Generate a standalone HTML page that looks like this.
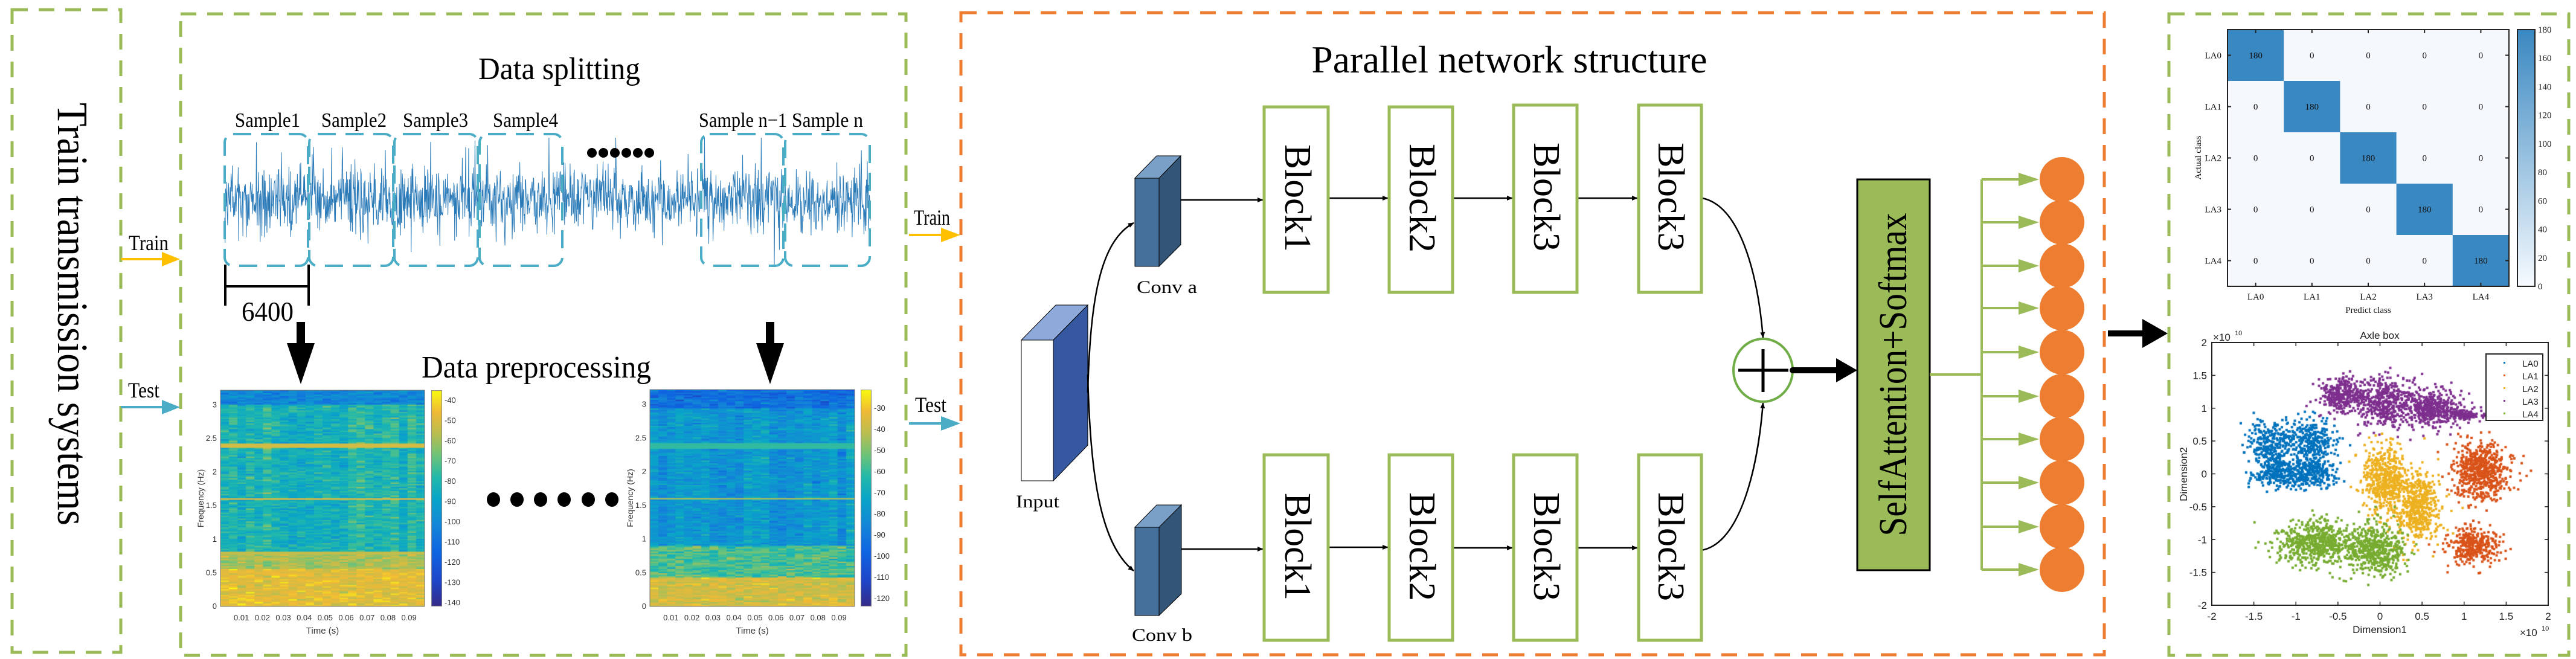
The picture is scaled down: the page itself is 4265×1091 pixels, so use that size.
<!DOCTYPE html>
<html><head><meta charset="utf-8">
<style>
html,body{margin:0;padding:0;background:#fff;}
body{width:4265px;height:1091px;overflow:hidden;position:relative;}
svg{position:absolute;left:0;top:0;}
canvas{position:absolute;}
</style></head>
<body>
<canvas id="sp1" width="338" height="358" style="left:365px;top:646px;"></canvas>
<canvas id="sp2" width="339" height="359" style="left:1076px;top:645px;"></canvas>
<canvas id="cb1" width="18" height="358" style="left:714px;top:646px;"></canvas>
<canvas id="cb2" width="18" height="359" style="left:1425px;top:645px;"></canvas>
<canvas id="cbm" width="29" height="425" style="left:4168px;top:49px;"></canvas>
<canvas id="sc" width="557" height="435" style="left:3662px;top:567px;"></canvas>
<svg width="4265" height="1091" xmlns="http://www.w3.org/2000/svg" font-family="Liberation Serif, serif">
<defs>
<marker id="ah" markerWidth="10" markerHeight="8" refX="9" refY="4" orient="auto" markerUnits="userSpaceOnUse" viewBox="0 0 10 8"><path d="M0,0 L10,4 L0,8 z" fill="#000"/></marker>
</defs>
<rect x="20" y="16" width="180" height="1064" fill="none" stroke="#9bbb59" stroke-width="5" stroke-dasharray="26,18"/>
<rect x="299" y="23" width="1201" height="1062" fill="none" stroke="#9bbb59" stroke-width="5" stroke-dasharray="26,18"/>
<rect x="1591" y="21" width="1893" height="1063" fill="none" stroke="#ed7d31" stroke-width="5" stroke-dasharray="26,18"/>
<rect x="3591" y="23" width="662" height="1062" fill="none" stroke="#9bbb59" stroke-width="5" stroke-dasharray="26,18"/>

<text transform="translate(96,520) rotate(90)" text-anchor="middle" font-size="72" textLength="700" lengthAdjust="spacingAndGlyphs">Train transmission systems</text>

<text x="213" y="414" font-size="36" textLength="66" lengthAdjust="spacingAndGlyphs">Train</text>
<line x1="200" y1="429" x2="272" y2="429" stroke="#ffc000" stroke-width="4"/>
<path d="M268,417 L298,429 L268,441 z" fill="#ffc000"/>
<text x="212" y="658" font-size="36" textLength="52" lengthAdjust="spacingAndGlyphs">Test</text>
<line x1="200" y1="674" x2="272" y2="674" stroke="#4bacc6" stroke-width="4"/>
<path d="M268,662 L298,674 L268,686 z" fill="#4bacc6"/>

<text x="926" y="131" text-anchor="middle" font-size="52" textLength="268" lengthAdjust="spacingAndGlyphs">Data splitting</text>
<g font-size="34" text-anchor="middle">
<text x="443" y="210" textLength="108" lengthAdjust="spacingAndGlyphs">Sample1</text>
<text x="586" y="210" textLength="108" lengthAdjust="spacingAndGlyphs">Sample2</text>
<text x="721" y="210" textLength="108" lengthAdjust="spacingAndGlyphs">Sample3</text>
<text x="870" y="210" textLength="108" lengthAdjust="spacingAndGlyphs">Sample4</text>
<text x="1230" y="210" textLength="146" lengthAdjust="spacingAndGlyphs">Sample n−1</text>
<text x="1370" y="210" textLength="118" lengthAdjust="spacingAndGlyphs">Sample n</text>
</g>
<g id="sig"></g>
<g fill="none" stroke="#4bacc6" stroke-width="4" stroke-dasharray="30,16">
<rect x="372" y="222" width="138" height="218" rx="14"/>
<rect x="512" y="222" width="139" height="218" rx="14"/>
<rect x="653" y="222" width="138" height="218" rx="14"/>
<rect x="794" y="222" width="137" height="218" rx="14"/>
<rect x="1161" y="222" width="136" height="218" rx="14"/>
<rect x="1300" y="222" width="140" height="218" rx="14"/>
</g>
<g fill="#000">
<circle cx="980" cy="253" r="8"/><circle cx="999" cy="253" r="8"/><circle cx="1018" cy="253" r="8"/><circle cx="1037" cy="253" r="8"/><circle cx="1056" cy="253" r="8"/><circle cx="1075" cy="253" r="8"/>
</g>
<g stroke="#000" stroke-width="4">
<line x1="373" y1="438" x2="373" y2="506"/><line x1="511" y1="438" x2="511" y2="506"/><line x1="373" y1="474" x2="511" y2="474"/>
</g>
<text x="443" y="531" text-anchor="middle" font-size="46" textLength="86" lengthAdjust="spacingAndGlyphs">6400</text>
<rect x="491" y="533" width="14" height="40" fill="#000"/><path d="M475,568 L521,568 L498,636 z" fill="#000"/>
<rect x="1268" y="533" width="14" height="40" fill="#000"/><path d="M1252,568 L1298,568 L1275,636 z" fill="#000"/>
<text x="888" y="625" text-anchor="middle" font-size="52" textLength="380" lengthAdjust="spacingAndGlyphs">Data preprocessing</text>
<g fill="#000">
<ellipse cx="817" cy="827" rx="11" ry="12"/><ellipse cx="856" cy="827" rx="11" ry="12"/><ellipse cx="895" cy="827" rx="11" ry="12"/><ellipse cx="934" cy="827" rx="11" ry="12"/><ellipse cx="974" cy="827" rx="11" ry="12"/><ellipse cx="1013" cy="827" rx="11" ry="12"/>
</g>
<g id="ax" font-family="Liberation Sans, sans-serif" font-size="13" fill="#333"></g>

<text x="1513" y="372" font-size="36" textLength="60" lengthAdjust="spacingAndGlyphs">Train</text>
<line x1="1505" y1="389" x2="1560" y2="389" stroke="#ffc000" stroke-width="4"/>
<path d="M1558,377 L1590,389 L1558,401 z" fill="#ffc000"/>
<text x="1515" y="682" font-size="36" textLength="52" lengthAdjust="spacingAndGlyphs">Test</text>
<line x1="1505" y1="701" x2="1560" y2="701" stroke="#4bacc6" stroke-width="4"/>
<path d="M1558,689 L1590,701 L1558,713 z" fill="#4bacc6"/>

<text x="2499" y="120" text-anchor="middle" font-size="64" textLength="655" lengthAdjust="spacingAndGlyphs">Parallel network structure</text>

<path d="M1691,563 L1748,505 L1801,505 L1744,563 z" fill="#8eaadb" stroke="#000" stroke-width="1"/>
<path d="M1744,563 L1801,505 L1801,737 L1744,796 z" fill="#3558a0" stroke="#000" stroke-width="1"/>
<rect x="1691" y="563" width="53" height="233" fill="#fff" stroke="#000" stroke-width="1"/>
<text x="1718" y="840" text-anchor="middle" font-size="30" textLength="72" lengthAdjust="spacingAndGlyphs">Input</text>
<path d="M1879,295 L1915,258 L1955,258 L1919,295 z" fill="#7aa0c8" stroke="#000" stroke-width="1"/>
<path d="M1919,295 L1955,258 L1955,405 L1919,441 z" fill="#335577" stroke="#000" stroke-width="1"/>
<rect x="1879" y="295" width="40" height="146" fill="#45709b" stroke="#000" stroke-width="1"/>
<text x="1932" y="485" text-anchor="middle" font-size="30" textLength="100" lengthAdjust="spacingAndGlyphs">Conv a</text>
<path d="M1879,873 L1915,836 L1956,836 L1919,873 z" fill="#7aa0c8" stroke="#000" stroke-width="1"/>
<path d="M1919,873 L1956,836 L1956,983 L1919,1019 z" fill="#335577" stroke="#000" stroke-width="1"/>
<rect x="1879" y="873" width="40" height="146" fill="#45709b" stroke="#000" stroke-width="1"/>
<text x="1924" y="1061" text-anchor="middle" font-size="30" textLength="100" lengthAdjust="spacingAndGlyphs">Conv b</text>
<path d="M1801,650 C1805,500 1820,400 1877,369" fill="none" stroke="#000" stroke-width="2.5" marker-end="url(#ah)"/>
<path d="M1801,620 C1805,780 1820,900 1877,945" fill="none" stroke="#000" stroke-width="2.5" marker-end="url(#ah)"/>
<g stroke="#000" stroke-width="2.5" fill="none">
<line x1="1955" y1="331" x2="2091" y2="331" marker-end="url(#ah)"/>
<line x1="1956" y1="909" x2="2091" y2="909" marker-end="url(#ah)"/>
<line x1="2199" y1="328" x2="2298" y2="328" marker-end="url(#ah)"/>
<line x1="2405" y1="328" x2="2504" y2="328" marker-end="url(#ah)"/>
<line x1="2611" y1="328" x2="2711" y2="328" marker-end="url(#ah)"/>
<line x1="2199" y1="906" x2="2298" y2="906" marker-end="url(#ah)"/>
<line x1="2405" y1="907" x2="2504" y2="907" marker-end="url(#ah)"/>
<line x1="2611" y1="907" x2="2711" y2="907" marker-end="url(#ah)"/>
<path d="M2818,328 C2880,340 2910,450 2919,559" marker-end="url(#ah)"/>
<path d="M2817,911 C2880,900 2910,780 2919,667" marker-end="url(#ah)"/>
</g>
<g fill="#fff" stroke="#9bbb59" stroke-width="5">
<rect x="2093" y="177" width="106" height="307"/><rect x="2300" y="177" width="105" height="307"/><rect x="2506" y="174" width="105" height="310"/><rect x="2713" y="174" width="104" height="310"/>
<rect x="2093" y="753" width="106" height="307"/><rect x="2300" y="753" width="105" height="307"/><rect x="2506" y="753" width="105" height="307"/><rect x="2713" y="753" width="104" height="307"/>
</g>
<g font-size="62" text-anchor="middle">
<text transform="translate(2128,328) rotate(90)" textLength="178" lengthAdjust="spacingAndGlyphs">Block1</text>
<text transform="translate(2334,328) rotate(90)" textLength="180" lengthAdjust="spacingAndGlyphs">Block2</text>
<text transform="translate(2540,326) rotate(90)" textLength="180" lengthAdjust="spacingAndGlyphs">Block3</text>
<text transform="translate(2746,326) rotate(90)" textLength="180" lengthAdjust="spacingAndGlyphs">Block3</text>
<text transform="translate(2128,905) rotate(90)" textLength="178" lengthAdjust="spacingAndGlyphs">Block1</text>
<text transform="translate(2334,905) rotate(90)" textLength="180" lengthAdjust="spacingAndGlyphs">Block2</text>
<text transform="translate(2540,905) rotate(90)" textLength="180" lengthAdjust="spacingAndGlyphs">Block3</text>
<text transform="translate(2746,905) rotate(90)" textLength="180" lengthAdjust="spacingAndGlyphs">Block3</text>
</g>
<ellipse cx="2919" cy="613" rx="49" ry="52" fill="#fff" stroke="#70ad47" stroke-width="4"/>
<line x1="2878" y1="613" x2="2961" y2="613" stroke="#000" stroke-width="5"/>
<line x1="2919" y1="578" x2="2919" y2="649" stroke="#000" stroke-width="5"/>
<line x1="2968" y1="613" x2="3044" y2="613" stroke="#000" stroke-width="10" stroke-linecap="round"/>
<path d="M3040,593 L3075,613 L3040,633 z" fill="#000"/>
<rect x="3075" y="297" width="120" height="647" fill="#9bbb59" stroke="#000" stroke-width="3"/>
<text transform="translate(3156,620) rotate(-90)" text-anchor="middle" font-size="66" textLength="535" lengthAdjust="spacingAndGlyphs">SelfAttention+Softmax</text>
<g stroke="#9bbb59" stroke-width="4" fill="none" id="tree">
<line x1="3195" y1="620" x2="3281" y2="620"/>
<line x1="3281" y1="297" x2="3281" y2="944"/>
</g>
<g id="circ"></g>
<line x1="3490" y1="552" x2="3555" y2="552" stroke="#000" stroke-width="10"/>
<path d="M3547,528 L3589,552 L3547,576 z" fill="#000"/>
<g id="cm" font-size="15" fill="#111"></g>
<g id="sca" font-family="Liberation Sans, sans-serif" font-size="17" fill="#222"></g>
</svg>
<script>
var seed=12345;function rnd(){seed=(seed*16807)%2147483647;return (seed-1)/2147483646;}
function gauss(){var u=rnd()||1e-6,v=rnd();return Math.sqrt(-2*Math.log(u))*Math.cos(2*Math.PI*v);}
var NS="http://www.w3.org/2000/svg";
function el(t,a,p,txt){var e=document.createElementNS(NS,t);for(var k in a)e.setAttribute(k,a[k]);if(txt!==undefined)e.textContent=txt;p.appendChild(e);return e;}
var pts=[];for(var x=372;x<=1441;x+=0.7){var g=gauss()*28;if(rnd()<0.03)g*=2.5;var y=330+g;y=Math.max(228,Math.min(440,y));pts.push(x.toFixed(1)+","+y.toFixed(1));}
el("polyline",{points:pts.join(" "),fill:"none",stroke:"#2a7ab8","stroke-width":"1"},document.getElementById("sig"));
var P=[[0,53,42,135],[0.12,30,70,200],[0.25,15,100,225],[0.38,20,135,215],[0.5,10,165,200],[0.6,35,185,170],[0.7,110,195,120],[0.8,185,190,80],[0.9,240,185,55],[1,249,251,14]];
function par(v){v=Math.max(0,Math.min(1,v));for(var i=1;i<P.length;i++){if(v<=P[i][0]){var a=P[i-1],b=P[i],t=(v-a[0])/(b[0]-a[0]);return "rgb("+Math.round(a[1]+t*(b[1]-a[1]))+","+Math.round(a[2]+t*(b[2]-a[2]))+","+Math.round(a[3]+t*(b[3]-a[3]))+")";}}}
function spec(id,w,h,mode){var c=document.getElementById(id).getContext("2d");var cols=24,rows=150;var fmax=3.22;
for(var i=0;i<cols;i++){var colb=gauss()*0.03;for(var r=0;r<rows;r++){var f=fmax*(1-(r+0.5)/rows);var v;
if(mode==1){v=0.56+gauss()*0.05+colb;if(f>3.0)v=0.38+gauss()*0.05;if(f<0.8)v=0.78+gauss()*0.05;if(f<0.55)v=0.88+gauss()*0.04;if(Math.abs(f-2.4)<0.03)v=0.85;if(Math.abs(f-1.6)<0.02)v=0.9;if(Math.abs(f-0.8)<0.02)v=0.82;}
else{v=0.45+gauss()*0.05+colb;if(f>2.95)v=0.3+gauss()*0.06;if(f<0.9)v=0.65+gauss()*0.06;if(f<0.42)v=0.85+gauss()*0.04;if(Math.abs(f-2.38)<0.04)v=0.62;if(Math.abs(f-1.6)<0.02)v=0.78;}
c.fillStyle=par(v);c.fillRect(i*w/cols,r*h/rows,w/cols+1,h/rows+1);}}}
spec("sp1",338,358,1);spec("sp2",339,359,2);
function cbar(id,h){var c=document.getElementById(id).getContext("2d");for(var y=0;y<h;y++){c.fillStyle=par(1-y/h);c.fillRect(0,y,18,1);}c.strokeStyle="#888";c.strokeRect(0.5,0.5,17,h-1);}
cbar("cb1",358);cbar("cb2",359);
var ax=document.getElementById("ax");
function specAxes(x0,y0,w,h,cbx,labs,cbTop,cbStep){
 el("rect",{x:x0,y:y0,width:w,height:h,fill:"none",stroke:"#777","stroke-width":"1"},ax);
 for(var k=0;k<=6;k++){var f=k*0.5;var y=y0+h-f*(h/3.22);el("text",{x:x0-6,y:y+4,"text-anchor":"end"},ax,(f==0?"0":String(f)));}
 for(var k=1;k<=9;k++){var x=x0+k*w/9.6*0.985;el("text",{x:x,y:y0+h+23,"text-anchor":"middle"},ax,"0.0"+k);}
 el("text",{x:x0+w/2,y:y0+h+45,"text-anchor":"middle","font-size":"15"},ax,"Time (s)");
 el("text",{transform:"translate("+(x0-28)+","+(y0+h/2)+") rotate(-90)","text-anchor":"middle","font-size":"14"},ax,"Frequency (Hz)");
 for(var i=0;i<labs.length;i++){el("text",{x:cbx+22,y:cbTop+i*cbStep+4},ax,labs[i]);}
}
specAxes(365,646,338,358,714,["-40","-50","-60","-70","-80","-90","-100","-110","-120","-130","-140"],663,33.5);
specAxes(1076,645,339,359,1425,["-30","-40","-50","-60","-70","-80","-90","-100","-110","-120"],676,35);
var tree=document.getElementById("tree"),circ=document.getElementById("circ");
var ys=[297,368,440,510,583,656,727,799,872,943];
for(var i=0;i<10;i++){el("line",{x1:3281,y1:ys[i],x2:3345,y2:ys[i]},tree);el("path",{d:"M3342,"+(ys[i]-11)+" L3376,"+ys[i]+" L3342,"+(ys[i]+11)+" z",fill:"#9bbb59",stroke:"none"},tree);}
for(var i=0;i<10;i++){el("ellipse",{cx:3414,cy:ys[i],rx:37,ry:37,fill:"#ed7d31"},circ);}
var cm=document.getElementById("cm");var mx=3688,my=49,cw=(4154-3688)/5,chh=(474-49)/5;
for(var r=0;r<5;r++)for(var c=0;c<5;c++){el("rect",{x:mx+c*cw,y:my+r*chh,width:cw+0.5,height:chh+0.5,fill:r==c?"#3a88c1":"#f5f9fe"},cm);el("text",{x:mx+c*cw+cw/2,y:my+r*chh+chh/2+5,"text-anchor":"middle"},cm,r==c?"180":"0");}
el("rect",{x:mx,y:my,width:466,height:425,fill:"none",stroke:"#222","stroke-width":"2"},cm);
for(var r=0;r<5;r++){el("text",{x:mx-10,y:my+r*chh+chh/2+5,"text-anchor":"end"},cm,"LA"+r);el("text",{x:mx+r*cw+cw/2,y:my+425+22,"text-anchor":"middle"},cm,"LA"+r);
 el("line",{x1:mx,y1:my+r*chh+chh/2,x2:mx+6,y2:my+r*chh+chh/2,stroke:"#222","stroke-width":"2"},cm);el("line",{x1:mx+466,y1:my+r*chh+chh/2,x2:mx+460,y2:my+r*chh+chh/2,stroke:"#222","stroke-width":"2"},cm);
 el("line",{x1:mx+r*cw+cw/2,y1:my,x2:mx+r*cw+cw/2,y2:my+6,stroke:"#222","stroke-width":"2"},cm);el("line",{x1:mx+r*cw+cw/2,y1:my+425,x2:mx+r*cw+cw/2,y2:my+419,stroke:"#222","stroke-width":"2"},cm);}
el("text",{x:mx+233,y:my+425+44,"text-anchor":"middle"},cm,"Predict class");
el("text",{transform:"translate("+(mx-44)+","+(my+212)+") rotate(-90)","text-anchor":"middle"},cm,"Actual class");
var cbm=document.getElementById("cbm").getContext("2d");for(var y=0;y<425;y++){var t=y/425;cbm.fillStyle="rgb("+Math.round(58+t*(247-58))+","+Math.round(136+t*(251-136))+","+Math.round(193+t*(255-193))+")";cbm.fillRect(0,y,29,1);}
el("rect",{x:4168,y:49,width:29,height:425,fill:"none",stroke:"#222","stroke-width":"2"},cm);
for(var k=0;k<=9;k++){var y=474-k*425/9;el("text",{x:4202,y:y+5},cm,String(k*20));}
var sc=document.getElementById("sc").getContext("2d");var W=557,H=435,X0=3662,Y0=567;
function px(x){return (x+2)/4*W;}function py(y){return (2-y)/4*H;}
var clusters=[["#0072bd",[[-1.3,0.45,0.18,0.25,300],[-0.8,0.5,0.18,0.25,300],[-1.2,0.0,0.2,0.15,250],[-0.8,0.0,0.18,0.15,250]]],["#d95319",[[1.2,0.05,0.22,0.28,600],[1.1,-1.1,0.2,0.18,350]]],["#edb120",[[0.05,-0.1,0.18,0.35,500],[0.45,-0.5,0.18,0.35,500]]],["#7e2f8e",[[-0.45,1.2,0.17,0.17,300],[0.05,1.1,0.25,0.25,450],[0.6,1.0,0.22,0.2,400],[1.0,0.9,0.15,0.06,150]]],["#77ac30",[[-0.75,-1.05,0.32,0.22,600],[-0.05,-1.15,0.22,0.25,500]]]];
for(var i=0;i<clusters.length;i++){sc.fillStyle=clusters[i][0];var cl=clusters[i][1];for(var j=0;j<cl.length;j++){var q=cl[j];for(var n=0;n<q[4];n++){var x=q[0]+gauss()*q[2]*0.75,y=q[1]+gauss()*q[3]*0.75;sc.fillRect(px(x)-2,py(y)-2,4,4);}}}
var sa=document.getElementById("sca");
el("rect",{x:X0,y:Y0,width:W,height:H,fill:"none",stroke:"#222","stroke-width":"2"},sa);
var vals=[-2,-1.5,-1,-0.5,0,0.5,1,1.5,2];
for(var k=0;k<9;k++){var v=vals[k];var x=X0+px(v),y=Y0+py(v);var s=(v==0?"0":String(v));
 el("text",{x:x,y:Y0+H+24,"text-anchor":"middle"},sa,s);el("text",{x:X0-8,y:y+6,"text-anchor":"end"},sa,s);
 el("line",{x1:x,y1:Y0,x2:x,y2:Y0+6,stroke:"#222","stroke-width":"1.5"},sa);el("line",{x1:x,y1:Y0+H,x2:x,y2:Y0+H-6,stroke:"#222","stroke-width":"1.5"},sa);
 el("line",{x1:X0,y1:y,x2:X0+6,y2:y,stroke:"#222","stroke-width":"1.5"},sa);el("line",{x1:X0+W,y1:y,x2:X0+W-6,y2:y,stroke:"#222","stroke-width":"1.5"},sa);}
el("text",{x:3940,y:561,"text-anchor":"middle"},sa,"Axle box");
el("text",{x:3940,y:1048,"text-anchor":"middle"},sa,"Dimension1");
el("text",{transform:"translate(3621,785) rotate(-90)","text-anchor":"middle"},sa,"Dimension2");
el("text",{x:3664,y:564},sa,"×10");el("text",{x:3700,y:555,"font-size":"11"},sa,"10");
el("text",{x:4172,y:1053},sa,"×10");el("text",{x:4208,y:1044,"font-size":"11"},sa,"10");
el("rect",{x:4116,y:586,width:94,height:110,fill:"#fff",stroke:"#222","stroke-width":"2"},sa);
var lc=["#0072bd","#d95319","#edb120","#7e2f8e","#77ac30"];
for(var k=0;k<5;k++){var y=601+k*21;el("rect",{x:4145,y:y-2,width:3,height:3,fill:lc[k]},sa);el("text",{x:4176,y:y+6,"font-size":"15"},sa,"LA"+k);}
</script>
</body></html>
